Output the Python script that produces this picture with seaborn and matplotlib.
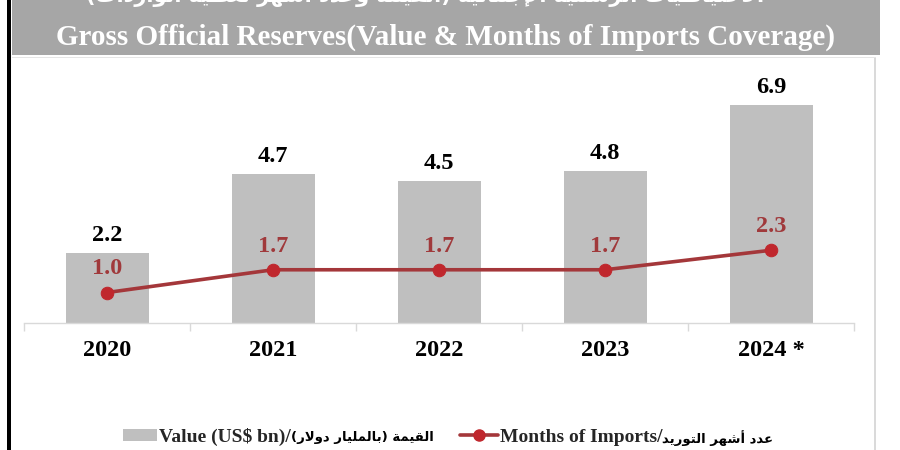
import numpy as np
import pandas as pd
import matplotlib
matplotlib.use('Agg')
import matplotlib.pyplot as plt
from matplotlib.patches import Rectangle, Patch
from matplotlib.lines import Line2D
from matplotlib.font_manager import FontProperties
import seaborn as sns

# ---------------- data ----------------
years = ['2020', '2021', '2022', '2023', '2024 *']
reserves_bn = [2.2, 4.7, 4.5, 4.8, 6.9]
months_imports = [1.0, 1.7, 1.7, 1.7, 2.3]

title_en = 'Gross Official Reserves(Value & Months of Imports Coverage)'
title_ar = 'الاحتياطيات الرسمية الإجمالية (القيمة وعدد أشهر تغطية الواردات)'
legend_value = ('Value (US$ bn)/', 'القيمة (بالمليار دولار)')
legend_months = ('Months of Imports/', 'عدد أشهر التوريد')

# ---------------- simple Arabic shaping (presentation forms + RTL) ----------------
_FORMS = {
    '\u0627': ('\uFE8D', '\uFE8E'),
    '\u0623': ('\uFE83', '\uFE84'),
    '\u0625': ('\uFE87', '\uFE88'),
    '\u0622': ('\uFE81', '\uFE82'),
    '\u0628': ('\uFE8F', '\uFE90', '\uFE91', '\uFE92'),
    '\u0629': ('\uFE93', '\uFE94'),
    '\u062A': ('\uFE95', '\uFE96', '\uFE97', '\uFE98'),
    '\u062C': ('\uFE9D', '\uFE9E', '\uFE9F', '\uFEA0'),
    '\u062D': ('\uFEA1', '\uFEA2', '\uFEA3', '\uFEA4'),
    '\u062F': ('\uFEA9', '\uFEAA'),
    '\u0631': ('\uFEAD', '\uFEAE'),
    '\u0633': ('\uFEB1', '\uFEB2', '\uFEB3', '\uFEB4'),
    '\u0634': ('\uFEB5', '\uFEB6', '\uFEB7', '\uFEB8'),
    '\u0637': ('\uFEC1', '\uFEC2', '\uFEC3', '\uFEC4'),
    '\u0639': ('\uFEC9', '\uFECA', '\uFECB', '\uFECC'),
    '\u063A': ('\uFECD', '\uFECE', '\uFECF', '\uFED0'),
    '\u0642': ('\uFED5', '\uFED6', '\uFED7', '\uFED8'),
    '\u0644': ('\uFEDD', '\uFEDE', '\uFEDF', '\uFEE0'),
    '\u0645': ('\uFEE1', '\uFEE2', '\uFEE3', '\uFEE4'),
    '\u0647': ('\uFEE9', '\uFEEA', '\uFEEB', '\uFEEC'),
    '\u0648': ('\uFEED', '\uFEEE'),
    '\u064A': ('\uFEF1', '\uFEF2', '\uFEF3', '\uFEF4'),
}
_LAM_ALEF = {'\u0627': ('\uFEFB', '\uFEFC'), '\u0623': ('\uFEF7', '\uFEF8'),
             '\u0625': ('\uFEF9', '\uFEFA'), '\u0622': ('\uFEF5', '\uFEF6')}


def shape_ar(text):
    out = []
    n = len(text)
    i = 0
    prev_joins = False
    while i < n:
        ch = text[i]
        if ch not in _FORMS:
            out.append(ch)
            prev_joins = False
            i += 1
            continue
        if ch == '\u0644' and i + 1 < n and text[i + 1] in _LAM_ALEF:
            iso, fin = _LAM_ALEF[text[i + 1]]
            out.append(fin if prev_joins else iso)
            prev_joins = False
            i += 2
            continue
        forms = _FORMS[ch]
        dual = len(forms) == 4
        nxt = text[i + 1] if i + 1 < n else ''
        next_joins = dual and nxt in _FORMS
        if prev_joins and next_joins:
            f = forms[3]
        elif prev_joins:
            f = forms[1]
        elif next_joins:
            f = forms[2]
        else:
            f = forms[0]
        out.append(f)
        prev_joins = dual
        i += 1
    vis = ''.join(reversed(out))
    return vis.translate(str.maketrans('()', ')('))


# ---------------- style ----------------
sns.set_style('white')
plt.rcParams['font.family'] = ['Liberation Serif', 'DejaVu Sans']

BAR_C = '#BFBFBF'
LINE_C = '#A4373A'
MARK_C = '#C0272D'
LBL_C = '#A0393B'

W, H = 900, 450
fig = plt.figure(figsize=(9, 4.5), dpi=100)


def fx(px):
    return px / W


def fy(py):
    return 1 - py / H


# frame decorations
fig.add_artist(Rectangle((fx(12), fy(55)), fx(880) - fx(12), 55 / H,
                         transform=fig.transFigure, facecolor='#A6A6A6', edgecolor='none'))
fig.add_artist(Rectangle((fx(7), 0), 4 / W, 1, transform=fig.transFigure,
                         facecolor='black', edgecolor='none'))
fig.add_artist(Rectangle((fx(874), 0), 2 / W, fy(57), transform=fig.transFigure,
                         facecolor='#DADADA', edgecolor='none'))
fig.add_artist(Rectangle((fx(12), fy(58)), fx(876) - fx(12), 1 / H, transform=fig.transFigure,
                         facecolor='#E6E6E6', edgecolor='none'))

fig.text(fx(446), fy(37), title_en, ha='center', va='center', color='white',
         fontsize=21, fontweight='bold', family=['Liberation Serif', 'DejaVu Sans'])
fig.text(fx(425), fy(2.0), shape_ar(title_ar), ha='center', va='baseline', color='white',
         fontsize=15, fontweight='bold', family=['DejaVu Sans'])

# ---------------- chart ----------------
df = pd.DataFrame({'year': years, 'value': reserves_bn, 'months': months_imports})

ax = fig.add_axes([fx(24), fy(323), fx(854) - fx(24), fy(70) - fy(323)])
sns.barplot(data=df, x='year', y='value', color=BAR_C, saturation=1, width=0.5,
            linewidth=0, ax=ax)

ax2 = ax.twinx()
sns.lineplot(x=np.arange(len(years)), y=df['months'], ax=ax2, color=LINE_C, lw=2.6,
             marker='o', markersize=9, markerfacecolor=MARK_C, markeredgecolor=MARK_C)

ax.set_xlim(-0.5, len(years) - 0.5)
ax.set_ylim(0, 8.0)
ax2.set_ylim(0.063, 7.843)

for i, v in enumerate(reserves_bn):
    ax.annotate(f'{v:.1f}', (i, v), xytext=(0, 8.6), textcoords='offset points',
                ha='center', va='baseline', fontsize=17.5, fontweight='bold', color='black')
for i, v in enumerate(months_imports):
    ax2.annotate(f'{v:.1f}', (i, v), xytext=(0, 13), textcoords='offset points',
                 ha='center', va='baseline', fontsize=17.5, fontweight='bold', color=LBL_C)

ax.set_xticks(range(len(years)))
ax.set_xticklabels(years, fontsize=17.5, fontweight='bold')
ax.set_xticks(np.arange(-0.5, len(years), 1), minor=True)
ax.tick_params(axis='x', which='major', length=0, pad=12, colors='black')
ax.tick_params(axis='x', which='minor', bottom=True, length=6, width=1, color='#D9D9D9',
               direction='out')
ax.set_yticks([])
ax2.set_yticks([])
ax.set_xlabel('')
ax.set_ylabel('')
ax2.set_ylabel('')
ax2.set_xlabel('')
for a in (ax, ax2):
    for s in ['top', 'left', 'right']:
        a.spines[s].set_visible(False)
ax2.spines['bottom'].set_visible(False)
ax.spines['bottom'].set_color('#D9D9D9')
ax.spines['bottom'].set_linewidth(1)

# ---------------- legend (Latin part in legend, Arabic part appended) ----------------
lat_prop = FontProperties(family=['Liberation Serif', 'DejaVu Sans'], weight='bold', size=14)
entries = [
    (Patch(facecolor=BAR_C, edgecolor='none', label=legend_value[0]), legend_value[1], 123, 1.75),
    (Line2D([], [], color=LINE_C, lw=2.6, marker='o', markersize=8, markerfacecolor=MARK_C,
            markeredgecolor=MARK_C, label=legend_months[0]), legend_months[1], 460, 1.95),
]
legs = []
for handle, ar, x0, hl in entries:
    leg = fig.legend(handles=[handle], loc='center left', bbox_to_anchor=(fx(x0), fy(437)),
                     frameon=False, prop=lat_prop, handlelength=hl,
                     handleheight=0.55, handletextpad=0.1, borderpad=0, borderaxespad=0)
    legs.append((leg, ar))

fig.canvas.draw()
renderer = fig.canvas.get_renderer()
for leg, ar in legs:
    bb = leg.get_texts()[0].get_window_extent(renderer)
    fig.text(bb.x1 / W, (bb.y0 + bb.y1) / 2 / H - 1.0 / H, shape_ar(ar), ha='left', va='center',
             fontsize=9.5, fontweight='bold', family=['DejaVu Sans'], color='black')

fig.savefig('out.png', dpi=100)
